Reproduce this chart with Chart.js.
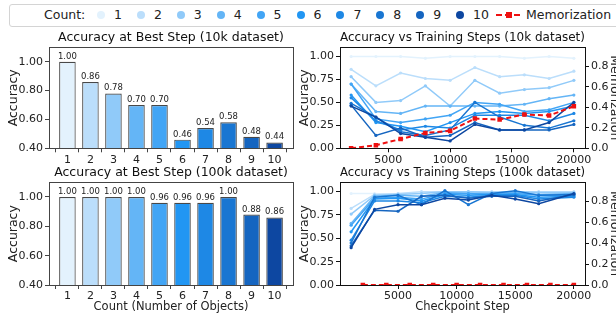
<!DOCTYPE html>
<html>
<head>
<meta charset="utf-8">
<script src="https://cdn.jsdelivr.net/npm/chart.js@4.4.1/dist/chart.umd.min.js"></script>
<style>
  html, body { margin: 0; padding: 0; background: #fff; }
  body { width: 616px; height: 315px; overflow: hidden; position: relative; font-family: 'DejaVu Sans', sans-serif; }
  canvas { position: absolute; }
  #legend { position: absolute; left: 9px; top: 4px; width: 640px; height: 23px; border: 1px solid #d4d4d4; border-radius: 3px; box-sizing: border-box; }
  #legend .txt { position: absolute; top: 2px; font-size: 12.5px; line-height: 16px; color: #222; white-space: nowrap; }
  #legend .dot { position: absolute; top: 6px; width: 8px; height: 8px; border-radius: 50%; }
  #legend .dash { position: absolute; top: 9px; width: 24px; height: 0; border-top: 2px dashed #ee1111; }
  #legend .sq { position: absolute; top: 7px; width: 6px; height: 6px; background: #ee1111; }
</style>
</head>
<body>
<div id="legend"></div>
<canvas id="bar10k" width="300" height="136" style="left:0px; top:28px"></canvas>
<canvas id="line10k" width="334" height="136" style="left:296px; top:28px"></canvas>
<canvas id="bar100k" width="300" height="152" style="left:0px; top:163px"></canvas>
<canvas id="line100k" width="334" height="152" style="left:296px; top:163px"></canvas>
<script>
// ---- data ----
const counts = [1, 2, 3, 4, 5, 6, 7, 8, 9, 10];
const countColors = ['#e3f2fd', '#bbdefb', '#90caf9', '#64b5f6', '#42a5f5', '#2196f3', '#1e88e5', '#1976d2', '#1565c0', '#0d47a1'];

const bestAcc10k = [1.00, 0.86, 0.78, 0.70, 0.70, 0.46, 0.54, 0.58, 0.48, 0.44];
const bestAcc100k = [1.00, 1.00, 1.00, 1.00, 0.96, 0.96, 0.96, 1.00, 0.88, 0.86];

const steps10k = [2000, 4000, 6000, 8000, 10000, 12000, 14000, 16000, 18000, 20000];
// one row per count (1..10)
const acc10k = [
  [1.00, 1.00, 1.00, 0.98, 1.00, 1.00, 1.00, 0.98, 1.00, 0.98],
  [0.86, 0.68, 0.82, 0.76, 0.74, 0.88, 0.78, 0.80, 0.76, 0.84],
  [0.78, 0.50, 0.52, 0.68, 0.46, 0.74, 0.60, 0.64, 0.66, 0.74],
  [0.70, 0.40, 0.38, 0.46, 0.46, 0.46, 0.46, 0.48, 0.54, 0.58],
  [0.70, 0.32, 0.28, 0.32, 0.36, 0.50, 0.48, 0.40, 0.42, 0.50],
  [0.58, 0.28, 0.24, 0.18, 0.28, 0.38, 0.40, 0.38, 0.40, 0.46],
  [0.55, 0.30, 0.20, 0.24, 0.22, 0.36, 0.36, 0.36, 0.30, 0.38],
  [0.49, 0.34, 0.18, 0.14, 0.20, 0.50, 0.34, 0.25, 0.22, 0.30],
  [0.47, 0.14, 0.22, 0.12, 0.14, 0.28, 0.20, 0.20, 0.20, 0.26],
  [0.46, 0.34, 0.16, 0.12, 0.08, 0.26, 0.20, 0.20, 0.28, 0.50]
];
const memo10k = [0.00, 0.03, 0.09, 0.15, 0.17, 0.29, 0.28, 0.33, 0.32, 0.41];

const steps100k = [1000, 3000, 5000, 7000, 9000, 11000, 13000, 15000, 17000, 20000];
const acc100k = [
  [0.98, 0.98, 0.97, 0.99, 0.99, 0.99, 0.99, 0.99, 0.99, 0.99],
  [0.82, 0.97, 0.98, 1.00, 1.00, 1.00, 1.00, 1.00, 1.00, 1.00],
  [0.76, 0.96, 0.97, 0.98, 1.00, 1.00, 0.99, 1.00, 0.99, 0.99],
  [0.66, 0.95, 0.96, 0.95, 0.99, 0.98, 0.98, 0.99, 0.97, 0.98],
  [0.64, 0.93, 0.94, 0.92, 0.98, 0.98, 0.97, 0.98, 0.96, 0.96],
  [0.57, 0.92, 0.93, 0.90, 0.97, 0.96, 0.97, 0.97, 0.94, 0.95],
  [0.48, 0.90, 0.90, 0.88, 0.95, 0.94, 0.96, 0.96, 0.92, 0.94],
  [0.45, 0.94, 0.96, 0.86, 1.01, 0.86, 0.98, 1.01, 0.96, 0.97],
  [0.42, 0.80, 0.79, 0.95, 0.96, 0.93, 0.95, 0.95, 0.90, 0.97],
  [0.40, 0.81, 0.86, 0.86, 0.93, 0.91, 0.96, 0.92, 0.87, 0.98]
];
const memoSteps100k = [2000, 4000, 6000, 8000, 10000, 12000, 14000, 16000, 18000, 20000];
const memo100k = [0, 0, 0, 0, 0, 0, 0, 0, 0, 0];

const stepTicks = [5000, 10000, 15000, 20000];
const memoColor = '#ee1111';
const FONT = 'DejaVu Sans';

Chart.defaults.font.family = FONT;
Chart.defaults.color = '#222';

// ---- legend ----
const legend = document.getElementById('legend');
function addEl(cls, left, text) {
  const el = document.createElement('div');
  el.className = cls;
  el.style.left = left + 'px';
  if (text) el.textContent = text;
  legend.appendChild(el);
  return el;
}
addEl('txt', 34, 'Count:');
counts.forEach((c, i) => {
  const cx = 91 + i * 39.9;
  addEl('dot', cx - 4).style.background = countColors[i];
  addEl('txt', cx + 13, String(c));
});
addEl('dash', 486);
addEl('sq', 496);
addEl('txt', 516, 'Memorization');

// ---- helpers ----
const framePlugin = {
  id: 'frame',
  afterDraw(chart, args, opts) {
    const { ctx, chartArea: a } = chart;
    ctx.save();
    ctx.strokeStyle = opts.color;
    ctx.lineWidth = 1;
    ctx.strokeRect(Math.round(a.left) + 0.5, Math.round(a.top) + 0.5,
      Math.round(a.right - a.left), Math.round(a.bottom - a.top));
    ctx.restore();
  }
};

const barLabelPlugin = {
  id: 'barLabels',
  afterDatasetsDraw(chart) {
    const ctx = chart.ctx;
    const meta = chart.getDatasetMeta(0);
    const data = chart.data.datasets[0].data;
    ctx.save();
    ctx.font = '8.5px ' + FONT;
    ctx.fillStyle = '#222';
    ctx.textAlign = 'center';
    ctx.textBaseline = 'bottom';
    meta.data.forEach((bar, i) => {
      ctx.fillText(data[i].y.toFixed(2), bar.x, bar.y - 1);
    });
    ctx.restore();
  }
};

function fixWidth(w) { return scale => { scale.width = w; }; }
function fixHeight(h) { return scale => { scale.height = h; }; }

function axisGrid(color) {
  return { display: true, drawOnChartArea: false, drawTicks: true, tickLength: 4, tickColor: color, color: color };
}

function titleOpts(text) {
  return {
    display: true, text: text, fullSize: false, color: '#111',
    font: { size: 12.5, weight: 'normal' }, padding: { top: 2, bottom: 2.3 }
  };
}

function makeBarChart(id, title, values, xTitle, xHeight) {
  const edge = '#444';
  return new Chart(document.getElementById(id), {
    type: 'bar',
    data: {
      datasets: [{
        data: counts.map((c, i) => ({ x: c, y: values[i] })),
        backgroundColor: countColors,
        borderColor: 'rgba(40,40,40,0.85)',
        borderWidth: 1.2,
        borderSkipped: false,
        barPercentage: 0.72,
        categoryPercentage: 1
      }]
    },
    options: {
      responsive: false,
      animation: false,
      devicePixelRatio: 1,
      layout: { padding: { left: 0, right: 7, top: 0, bottom: 0 } },
      plugins: {
        legend: { display: false },
        tooltip: { enabled: false },
        title: titleOpts(title),
        frame: { color: edge }
      },
      scales: {
        x: {
          type: 'linear', min: 0.2, max: 10.8, offset: false,
          afterBuildTicks: s => { s.ticks = counts.map(v => ({ value: v })); },
          afterFit: fixHeight(xHeight),
          grid: axisGrid(edge),
          border: { display: true, color: edge },
          ticks: { font: { size: 11 }, padding: 1, color: '#222', callback: v => String(v) },
          title: { display: !!xTitle, text: xTitle || '', font: { size: 11.5 }, color: '#222', padding: { top: 0, bottom: 1.5 } }
        },
        y: {
          min: 0.4, max: 1.1,
          afterFit: fixWidth(49),
          grid: axisGrid(edge),
          border: { display: true, color: edge },
          ticks: { stepSize: 0.2, includeBounds: false, font: { size: 11 }, padding: 2, color: '#222', callback: v => v.toFixed(2) },
          title: { display: true, text: 'Accuracy', font: { size: 12.5 }, color: '#222', padding: { top: 6, bottom: 0 } }
        }
      }
    },
    plugins: [framePlugin, barLabelPlugin]
  });
}

function makeLineChart(id, title, steps, acc, memoSteps, memo, xMin, xMax, xTitle, xHeight) {
  const edge = '#111';
  const datasets = [{
    data: memoSteps.map((s, j) => ({ x: s, y: memo[j] })),
    yAxisID: 'y2',
    borderColor: memoColor,
    backgroundColor: memoColor,
    borderWidth: 2,
    borderDash: [5, 3],
    pointStyle: 'rect',
    pointRadius: 3.2,
    pointBorderWidth: 0,
    order: 0
  }];
  acc.forEach((row, i) => {
    datasets.push({
      data: steps.map((s, j) => ({ x: s, y: row[j] })),
      yAxisID: 'y',
      borderColor: countColors[i],
      backgroundColor: countColors[i],
      borderWidth: 1.5,
      pointRadius: 1.6,
      pointBorderWidth: 0,
      order: 11 - i
    });
  });
  return new Chart(document.getElementById(id), {
    type: 'line',
    data: { datasets: datasets },
    options: {
      responsive: false,
      animation: false,
      devicePixelRatio: 1,
      layout: { padding: 0 },
      plugins: {
        legend: { display: false },
        tooltip: { enabled: false },
        title: titleOpts(title),
        frame: { color: edge }
      },
      scales: {
        x: {
          type: 'linear', min: xMin, max: xMax,
          afterBuildTicks: s => { s.ticks = stepTicks.map(v => ({ value: v })); },
          afterFit: fixHeight(xHeight),
          grid: axisGrid(edge),
          border: { display: true, color: edge },
          ticks: { font: { size: 11 }, padding: 1, color: '#222', callback: v => String(v) },
          title: { display: !!xTitle, text: xTitle || '', font: { size: 11.5 }, color: '#222', padding: { top: 0, bottom: 1.5 } }
        },
        y: {
          position: 'left', min: 0, max: 1.1,
          afterFit: fixWidth(44),
          grid: axisGrid(edge),
          border: { display: true, color: edge },
          ticks: { stepSize: 0.25, includeBounds: false, font: { size: 11 }, padding: 2, color: '#222', callback: v => v.toFixed(2) },
          title: { display: true, text: 'Accuracy', font: { size: 12.5 }, color: '#222', padding: { top: 1.5, bottom: 0 } }
        },
        y2: {
          position: 'right', min: 0, max: 0.985,
          afterFit: fixWidth(45),
          grid: axisGrid(edge),
          border: { display: true, color: edge },
          ticks: { stepSize: 0.2, includeBounds: false, font: { size: 11 }, padding: 2, color: '#222', callback: v => v.toFixed(1) },
          title: { display: true, text: 'Memorization', font: { size: 12.5 }, color: '#222', padding: { top: 8, bottom: 0 } }
        }
      }
    },
    plugins: [framePlugin]
  });
}

makeBarChart('bar10k', 'Accuracy at Best Step (10k dataset)', bestAcc10k, null, 15.7);
makeBarChart('bar100k', 'Accuracy at Best Step (100k dataset)', bestAcc100k, 'Count (Number of Objects)', 30);
makeLineChart('line10k', 'Accuracy vs Training Steps (10k dataset)', steps10k, acc10k, steps10k, memo10k, 1100, 20900, null, 15.7);
makeLineChart('line100k', 'Accuracy vs Training Steps (100k dataset)', steps100k, acc100k, memoSteps100k, memo100k, 50, 20950, 'Checkpoint Step', 30);
</script>
</body>
</html>
